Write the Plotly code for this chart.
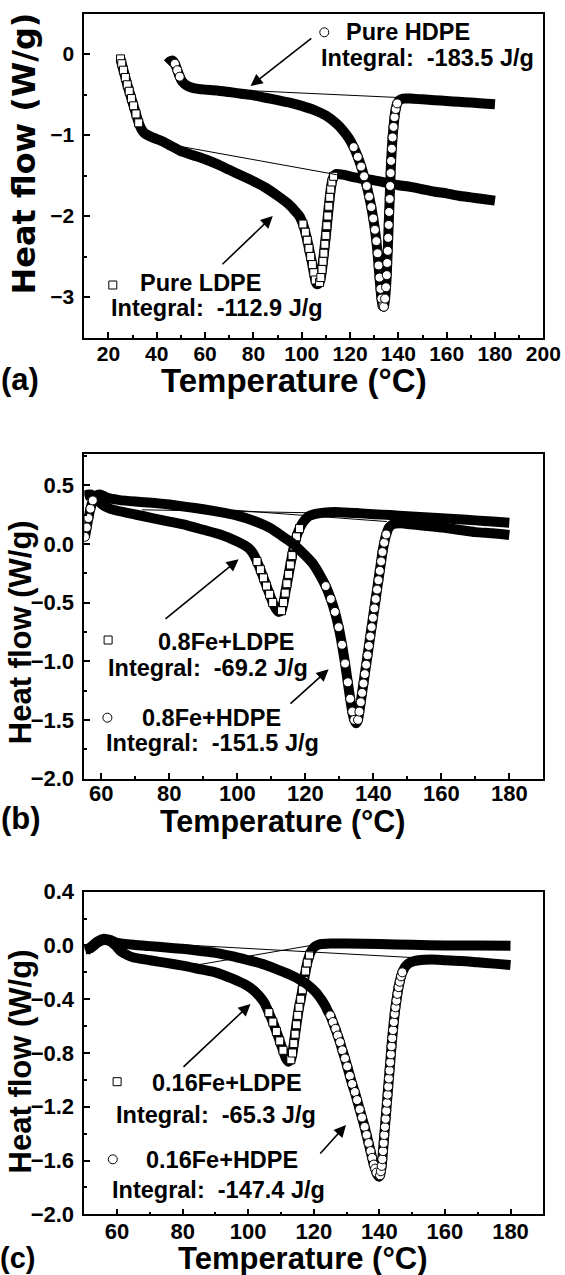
import numpy as np
import plotly.graph_objects as go

W, H = 565, 1275
FONT = "Liberation Sans"

# ---------------- data (Temperature degC, Heat flow W/g) ----------------
a_ldpe = [(25.0,-0.06),(25.5,-0.12),(26.2,-0.20),(27.0,-0.29),(27.8,-0.38),(28.6,-0.46),(29.5,-0.55),
          (30.4,-0.64),(31.4,-0.74),(32.5,-0.85),(33.7,-0.93),(35.0,-0.98),(37.5,-1.02),(40.0,-1.05),
          (42.5,-1.08),(45.0,-1.12),(47.5,-1.16),(50.0,-1.20),(55.0,-1.25),(60.0,-1.30),(65.0,-1.36),
          (70.0,-1.43),(75.0,-1.50),(80.0,-1.57),(85.0,-1.65),(90.0,-1.75),(94.4,-1.85),(97.0,-1.93),
          (99.0,-2.00),(100.5,-2.10),(101.5,-2.20),(102.3,-2.30),(103.0,-2.40),(103.7,-2.50),(104.4,-2.60),
          (105.0,-2.70),(105.6,-2.79),(106.2,-2.84),(106.8,-2.84),(107.4,-2.82),(107.9,-2.76),(108.4,-2.66),
          (108.8,-2.56),(109.2,-2.46),(109.6,-2.35),(110.0,-2.24),(110.4,-2.12),(110.8,-2.00),(111.2,-1.88),
          (111.6,-1.77),(112.0,-1.67),(112.5,-1.58),(113.2,-1.51),(114.5,-1.48),(117.0,-1.49),(120.0,-1.51),
          (125.0,-1.54),(130.0,-1.56),(135.0,-1.59),(140.0,-1.62),(145.0,-1.64),(150.0,-1.67),(155.0,-1.70),
          (160.0,-1.72),(165.0,-1.75),(170.0,-1.77),(175.0,-1.79),(180.0,-1.81)]
a_hdpe = [(44.4,-0.12),(45.5,-0.09),(46.5,-0.08),(47.5,-0.12),(48.5,-0.20),(49.5,-0.28),(50.5,-0.34),
          (52.0,-0.38),(54.0,-0.41),(57.0,-0.43),(60.0,-0.44),(65.0,-0.45),(70.0,-0.47),(75.0,-0.49),
          (80.0,-0.51),(85.0,-0.54),(90.0,-0.57),(95.0,-0.60),(100.0,-0.64),(105.0,-0.69),(110.0,-0.76),
          (114.0,-0.85),(117.0,-0.94),(119.5,-1.04),(121.5,-1.15),(123.2,-1.27),(124.6,-1.39),(125.8,-1.51),
          (126.9,-1.63),(127.9,-1.76),(128.8,-1.89),(129.6,-2.03),(130.3,-2.17),(130.9,-2.31),(131.4,-2.46),
          (131.8,-2.61),(132.2,-2.76),(132.6,-2.90),(133.0,-3.02),(133.5,-3.11),(134.0,-3.12),(134.5,-3.02),
          (134.9,-2.88),(135.2,-2.73),(135.4,-2.58),(135.6,-2.43),(135.8,-2.27),(136.0,-2.11),(136.2,-1.95),
          (136.4,-1.79),(136.6,-1.63),(136.8,-1.47),(137.0,-1.32),(137.3,-1.17),(137.6,-1.03),(138.0,-0.90),
          (138.4,-0.78),(138.9,-0.68),(139.5,-0.61),(140.5,-0.57),(142.0,-0.55),(145.0,-0.55),(150.0,-0.56),
          (155.0,-0.57),(160.0,-0.58),(165.0,-0.59),(170.0,-0.60),(175.0,-0.61),(180.0,-0.62)]
a_ldpe_base = [(49.6,-1.14),(114.5,-1.49)]
a_hdpe_base = [(55.0,-0.42),(142.0,-0.54)]

b_ldpe = [(55.0,0.41),(56.0,0.42),(57.0,0.42),(58.0,0.40),(59.0,0.37),(60.5,0.33),(62.5,0.30),(65.0,0.28),
          (70.0,0.25),(75.0,0.22),(80.0,0.19),(85.0,0.16),(90.0,0.12),(95.0,0.08),(100.0,0.02),(102.0,-0.01),
          (103.5,-0.04),(104.8,-0.09),(105.8,-0.15),(106.8,-0.22),(107.7,-0.29),(108.6,-0.36),(109.5,-0.43),
          (110.4,-0.50),(111.3,-0.55),(112.2,-0.58),(113.0,-0.57),(113.6,-0.50),(114.1,-0.42),(114.6,-0.34),
          (115.1,-0.26),(115.6,-0.18),(116.1,-0.10),(116.7,-0.02),(117.4,0.06),(118.3,0.13),(119.5,0.19),
          (121.0,0.235),(123.0,0.255),(126.0,0.268),(130.0,0.27),(135.0,0.262),(140.0,0.253),(145.0,0.245),
          (150.0,0.236),(155.0,0.227),(160.0,0.218),(165.0,0.209),(170.0,0.20),(175.0,0.19),(180.0,0.18)]
b_hdpe = [(55.2,0.06),(55.7,0.14),(56.2,0.22),(56.8,0.30),(57.5,0.37),(58.5,0.41),(59.5,0.42),(60.5,0.41),
          (62.0,0.39),(65.0,0.375),(70.0,0.36),(75.0,0.35),(80.0,0.335),(85.0,0.315),(90.0,0.295),(95.0,0.27),
          (100.0,0.24),(105.0,0.195),(110.0,0.13),(113.0,0.07),(116.0,0.01),(119.0,-0.07),(122.0,-0.16),
          (124.0,-0.25),(126.0,-0.36),(127.5,-0.47),(128.7,-0.58),(129.8,-0.71),(130.8,-0.86),(131.7,-1.02),
          (132.5,-1.18),(133.2,-1.32),(133.8,-1.43),(134.4,-1.50),(135.0,-1.53),(135.5,-1.50),(135.9,-1.43),
          (136.3,-1.35),(136.7,-1.27),(137.1,-1.19),(137.5,-1.11),(137.9,-1.03),(138.3,-0.95),(138.7,-0.87),
          (139.1,-0.79),(139.5,-0.71),(139.9,-0.63),(140.3,-0.55),(140.7,-0.47),(141.1,-0.39),(141.5,-0.31),
          (141.9,-0.23),(142.3,-0.15),(142.7,-0.07),(143.2,0.01),(143.8,0.08),(144.6,0.14),(146.0,0.17),
          (148.0,0.175),(150.0,0.17),(155.0,0.155),(160.0,0.14),(165.0,0.12),(170.0,0.10),(175.0,0.09),
          (180.0,0.075)]
b_ldpe_base = [(72.0,0.29),(121.0,0.265)]
b_hdpe_base = [(65.0,0.36),(144.0,0.19)]

c_ldpe = [(50.3,-0.03),(52.0,-0.02),(54.0,0.02),(56.0,0.04),(58.0,0.03),(59.5,0.0),(61.0,-0.04),(63.0,-0.07),
          (65.0,-0.09),(70.0,-0.11),(75.0,-0.13),(80.0,-0.15),(85.0,-0.175),(90.0,-0.20),(95.0,-0.245),
          (99.0,-0.29),(101.5,-0.33),(103.5,-0.38),(105.0,-0.43),(106.3,-0.50),(107.5,-0.57),(108.6,-0.64),
          (109.6,-0.71),(110.6,-0.78),(111.5,-0.84),(112.3,-0.865),(113.0,-0.85),(113.5,-0.80),(113.9,-0.73),
          (114.3,-0.66),(114.7,-0.59),(115.1,-0.52),(115.5,-0.46),(116.0,-0.40),(116.5,-0.33),(117.0,-0.26),
          (117.5,-0.19),(118.0,-0.13),(118.7,-0.07),(119.5,-0.03),(120.5,-0.005),(122.0,0.01),(125.0,0.015),
          (130.0,0.015),(140.0,0.01),(150.0,0.005),(160.0,0.0),(170.0,0.0),(180.0,-0.002)]
c_hdpe = [(50.5,-0.04),(52.0,-0.01),(54.0,0.03),(56.0,0.05),(58.0,0.04),(60.0,0.02),(65.0,0.005),(70.0,-0.005),
          (75.0,-0.015),(80.0,-0.025),(85.0,-0.04),(90.0,-0.055),(95.0,-0.08),(100.0,-0.11),(104.0,-0.135),
          (108.0,-0.17),(112.0,-0.21),(115.0,-0.245),(118.0,-0.29),(120.5,-0.345),(121.5,-0.375),(122.5,-0.41),
          (123.5,-0.45),(124.3,-0.49),(125.0,-0.52),(125.8,-0.57),(126.6,-0.62),(127.3,-0.67),(128.0,-0.72),
          (128.7,-0.78),(129.5,-0.84),(130.2,-0.90),(131.0,-0.97),(131.7,-1.03),(132.5,-1.09),(133.2,-1.15),
          (134.0,-1.22),(134.7,-1.28),(135.5,-1.35),(136.1,-1.41),(136.7,-1.47),(137.3,-1.53),(137.8,-1.58),
          (138.3,-1.63),(138.7,-1.66),(139.1,-1.69),(139.5,-1.71),(139.85,-1.72),(140.2,-1.71),(140.45,-1.68),
          (140.7,-1.64),(140.9,-1.59),(141.1,-1.53),(141.3,-1.47),(141.5,-1.41),(141.7,-1.35),(141.9,-1.29),
          (142.1,-1.23),(142.3,-1.17),(142.5,-1.11),(142.7,-1.05),(142.9,-0.99),(143.1,-0.93),(143.3,-0.87),
          (143.5,-0.81),(143.7,-0.75),(143.9,-0.69),(144.15,-0.63),(144.4,-0.57),(144.65,-0.51),(144.9,-0.46),
          (145.2,-0.41),(145.5,-0.36),(145.85,-0.31),(146.2,-0.27),(146.6,-0.23),(147.0,-0.20),(147.5,-0.175),
          (148.0,-0.155),(149.5,-0.125),(152.0,-0.11),(156.0,-0.105),(160.0,-0.11),(165.0,-0.115),
          (170.0,-0.125),(175.0,-0.135),(180.0,-0.145)]
c_ldpe_base = [(82.0,-0.155),(122.0,0.012)]
c_hdpe_base = [(65.0,0.025),(150.0,-0.09)]

labels = {
    "a": [("Pure HDPE", "Integral:\u00a0 -183.5 J/g"), ("Pure LDPE", "Integral:\u00a0 -112.9 J/g")],
    "b": [("0.8Fe+LDPE", "Integral:\u00a0 -69.2 J/g"), ("0.8Fe+HDPE", "Integral:\u00a0 -151.5 J/g")],
    "c": [("0.16Fe+LDPE", "Integral:\u00a0 -65.3 J/g"), ("0.16Fe+HDPE", "Integral:\u00a0 -147.4 J/g")],
}
x_title = "Temperature (°C)"
y_title = "Heat flow (W/g)"

# ---------------- layout geometry (pixels) ----------------
PLOT_L, PLOT_R = 84.3, 543.3
frames = {  # top, bottom pixel of each panel's plotting area
    "a": (13.5, 337.5),
    "b": (453.5, 778.5),
    "c": (891.7, 1214.3),
}
axes = {
    "a": dict(xa="x", ya="y", xr=[10, 200], yr=[-3.5, 0.5], xd=20, xm=10, yd=1, ym=0.5, yfmt="d",
              tick=21, xstand=-4),
    "b": dict(xa="x2", ya="y2", xr=[55, 190], yr=[-2.0, 0.77], xd=20, xm=10, yd=0.5, ym=0.25, yfmt=".1f",
              tick=22, xstand=-6),
    "c": dict(xa="x3", ya="y3", xr=[50, 190], yr=[-2.0, 0.4], xd=20, xm=10, yd=0.4, ym=0.2, yfmt=".1f",
              tick=22, xstand=-4),
}


def px(x):
    return x / W


def py(y):
    return 1 - y / H


fig = go.Figure()


def add_curve(pairs, symbol, msize, key):
    ax = axes[key]
    top, bot = frames[key]
    kx = (PLOT_R - PLOT_L) / (ax["xr"][1] - ax["xr"][0])
    ky = (bot - top) / (ax["yr"][1] - ax["yr"][0])
    T = np.array([p[0] for p in pairs], dtype=float)
    V = np.array([p[1] for p in pairs], dtype=float)
    slope = np.abs(np.gradient(V, T)) * ky / kx
    steep = slope > 2.0
    fig.add_trace(go.Scatter(x=T, y=V, mode="lines", xaxis=ax["xa"], yaxis=ax["ya"],
                             line=dict(color="black", width=10, shape="spline", smoothing=0.5),
                             hoverinfo="skip", showlegend=False))
    fig.add_trace(go.Scatter(x=T[steep], y=V[steep], mode="markers", xaxis=ax["xa"], yaxis=ax["ya"],
                             marker=dict(symbol=symbol, size=msize, color="white",
                                         line=dict(color="black", width=1)),
                             hoverinfo="skip", showlegend=False))


def add_base(pairs, key):
    ax = axes[key]
    fig.add_trace(go.Scatter(x=[p[0] for p in pairs], y=[p[1] for p in pairs], mode="lines",
                             xaxis=ax["xa"], yaxis=ax["ya"], line=dict(color="black", width=1),
                             hoverinfo="skip", showlegend=False))


add_curve(a_ldpe, "square", 8, "a")
add_curve(a_hdpe, "circle", 9, "a")
add_base(a_ldpe_base, "a")
add_base(a_hdpe_base, "a")
add_curve(b_ldpe, "square", 8, "b")
add_curve(b_hdpe, "circle", 9, "b")
add_base(b_ldpe_base, "b")
add_base(b_hdpe_base, "b")
add_curve(c_ldpe, "square", 8, "c")
add_curve(c_hdpe, "circle", 9, "c")
add_base(c_ldpe_base, "c")
add_base(c_hdpe_base, "c")

layout = dict(width=W, height=H, autosize=False, margin=dict(l=0, r=0, t=0, b=0),
              paper_bgcolor="white", plot_bgcolor="white", showlegend=False)

for key, ax in axes.items():
    top, bot = frames[key]
    xname = "xaxis" + ax["xa"][1:]
    yname = "yaxis" + ax["ya"][1:]
    tf = dict(family=FONT, size=ax["tick"], color="black", weight="bold")
    layout[xname] = dict(domain=[px(PLOT_L), px(PLOT_R)], range=ax["xr"], anchor=ax["ya"],
                         showgrid=False, zeroline=False, showline=True, linecolor="black", linewidth=1.6,
                         mirror=True, ticks="inside", ticklen=6, tickwidth=1.5, tickcolor="black",
                         tick0=0, dtick=ax["xd"], tickfont=tf, ticklabelstandoff=ax["xstand"],
                         automargin=False,
                         minor=dict(ticks="inside", ticklen=3, tickwidth=1.5, tickcolor="black",
                                    tick0=0, dtick=ax["xm"], showgrid=False))
    layout[yname] = dict(domain=[py(bot), py(top)], range=ax["yr"], anchor=ax["xa"],
                         showgrid=False, zeroline=False, showline=True, linecolor="black", linewidth=1.6,
                         mirror=True, ticks="inside", ticklen=6, tickwidth=1.5, tickcolor="black",
                         tick0=0, dtick=ax["yd"], tickformat=ax["yfmt"], tickfont=tf, ticklabelstandoff=4,
                         automargin=False,
                         minor=dict(ticks="inside", ticklen=3, tickwidth=1.5, tickcolor="black",
                                    tick0=0, dtick=ax["ym"], showgrid=False))

fig.update_layout(**layout)

ann = []
shapes = []


def text(x, y, s, size, anchor="left", family=FONT, angle=0):
    ann.append(dict(x=px(x), y=py(y), xref="paper", yref="paper", text=s, showarrow=False,
                    xanchor=anchor, yanchor="middle", textangle=angle,
                    font=dict(family=family, size=size, color="black", weight="bold")))


def arrow(tip, tail):
    ann.append(dict(x=px(tip[0]), y=py(tip[1]), xref="paper", yref="paper", text="",
                    showarrow=True, ax=tail[0] - tip[0], ay=tail[1] - tip[1],
                    arrowhead=2, arrowsize=1.5, arrowwidth=1.6, arrowcolor="black"))


def sym(kind, cx, cy, d):
    shapes.append(dict(type="circle" if kind == "circle" else "rect", xref="paper", yref="paper",
                       x0=px(cx - d / 2), x1=px(cx + d / 2), y0=py(cy + d / 2), y1=py(cy - d / 2),
                       line=dict(color="black", width=1), fillcolor="white"))


# panel (a)
sym("circle", 324.3, 32.3, 9)
text(344.1, 31.7, labels["a"][0][0], 23.5)
text(318.9, 58.3, labels["a"][0][1], 23.5)
sym("square", 112.8, 285, 8)
text(138, 283.3, labels["a"][1][0], 23.5)
text(109.2, 308.3, labels["a"][1][1], 23.5)
arrow((250.5, 86), (312.8, 37.3))
arrow((272.8, 216), (220.9, 265.7))
text(293.7, 380, x_title, 33, anchor="center")
text(24.3, 153.3, y_title, 32, anchor="center", family="DejaVu Sans", angle=-90)
text(19.8, 379, "(a)", 31, anchor="center")

# panel (b)
sym("square", 108.1, 640, 8)
text(155.7, 641.7, labels["b"][0][0], 23.5)
text(105.6, 668.3, labels["b"][0][1], 23.5)
sym("circle", 107.4, 717.7, 9)
text(139.8, 717.7, labels["b"][1][0], 23.5)
text(103.8, 743.3, labels["b"][1][1], 23.5)
arrow((238.6, 559.3), (164, 620))
arrow((328.6, 669.3), (289, 705))
text(283, 822, x_title, 30.5, anchor="center")
text(20.7, 632.5, y_title, 31, anchor="center", angle=-90)
text(20.5, 818, "(b)", 31, anchor="center")

# panel (c)
sym("square", 117.1, 1081.7, 8)
text(149.5, 1083.3, labels["c"][0][0], 23.5)
text(113.5, 1115, labels["c"][0][1], 23.5)
sym("circle", 112.8, 1159.3, 9)
text(144.1, 1160, labels["c"][1][0], 23.5)
text(109.9, 1190, labels["c"][1][1], 23.5)
arrow((250.5, 1004), (182, 1068.3))
arrow((346, 1125), (318.9, 1155))
text(302.7, 1258.5, x_title, 31, anchor="center")
text(20.7, 1061.7, y_title, 31, anchor="center", angle=-90)
text(17.5, 1257.5, "(c)", 29, anchor="center")

fig.update_layout(annotations=ann, shapes=shapes)
fig.write_html("out.html", config={"displayModeBar": False},
               post_script="document.body.style.margin='0px';")
